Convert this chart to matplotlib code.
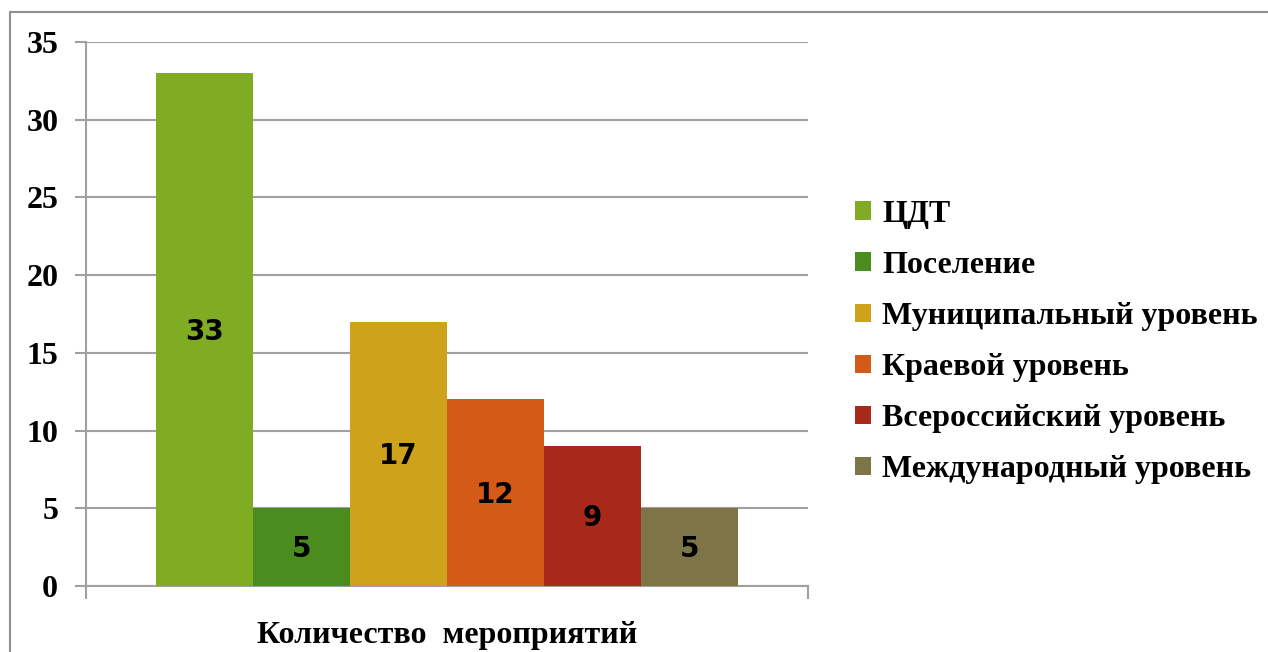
import matplotlib
matplotlib.use("Agg")
import matplotlib.pyplot as plt
from matplotlib.patches import Patch, Rectangle

# data
categories = ["ЦДТ", "Поселение", "Муниципальный уровень", "Краевой уровень",
              "Всероссийский уровень", "Международный уровень"]
values = [33, 5, 17, 12, 9, 5]
colors = ["#80AC24", "#4A8C1E", "#CFA21C", "#D35B17", "#A8281A", "#7F7448"]
group_label = "Количество  мероприятий"
yticks = [0, 5, 10, 15, 20, 25, 30, 35]

serif = "Liberation Serif"
sans = "DejaVu Sans"
grid_color = "#A0A0A0"

fig = plt.figure(figsize=(12.68, 6.52), dpi=100)
ax = fig.add_axes([86 / 1268, 1 - 586 / 652, 722 / 1268, 544 / 652])

# outer chart frame (clipped by right and bottom edges like in the reference)
fig.patches.append(Rectangle((10 / 1268, -0.1), 1.2, 1 - 12 / 652 + 0.1,
                             transform=fig.transFigure, fill=False,
                             edgecolor="#909090", linewidth=1.5))

n = len(values)
bar_w = 0.805 / n
for i, (cat, val, col) in enumerate(zip(categories, values, colors)):
    x = -0.805 / 2 + bar_w * (i + 0.5)
    ax.bar(x, val, width=bar_w, color=col, label=cat, zorder=3)
    ax.text(x, val / 2 - 0.15, str(val), ha="center", va="center",
            fontsize=20, fontweight="bold", family=sans, zorder=4)

ax.set_xlim(-0.5, 0.5)
ax.set_ylim(0, 35)
ax.set_yticks(yticks)
ax.set_yticklabels([str(t) for t in yticks], fontsize=23, fontweight="bold",
                   family=serif)
ax.set_xticks([-0.5, 0.5])
ax.set_xticklabels(["", ""])
ax.grid(axis="y", color=grid_color, linewidth=1.5, zorder=0)
ax.tick_params(axis="y", length=8, width=1.5, color=grid_color, pad=12)
ax.tick_params(axis="x", length=9, width=1.5, color=grid_color)

for side in ["top", "right"]:
    ax.spines[side].set_visible(False)
for side in ["left", "bottom"]:
    ax.spines[side].set_color(grid_color)
    ax.spines[side].set_linewidth(1.5)

ax.set_xlabel(group_label, fontsize=23, fontweight="bold", family=serif,
              labelpad=13)

handles = [Patch(facecolor=c, edgecolor="none") for c in colors]
fig.legend(handles, categories, loc="center left",
           bbox_to_anchor=(855 / 1268, 1 - 342 / 652), frameon=False,
           prop={"family": serif, "weight": "bold", "size": 23},
           handlelength=0.5, handleheight=0.5, handletextpad=0.35,
           labelspacing=0.69, borderpad=0, borderaxespad=0)

fig.savefig("out.png", dpi=100, facecolor="white")
